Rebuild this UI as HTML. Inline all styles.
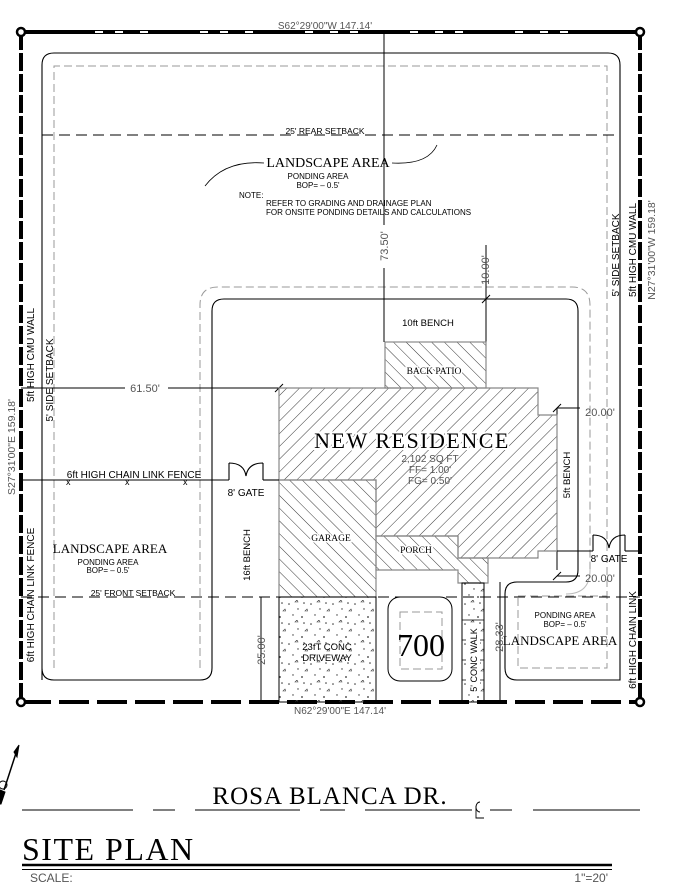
<!DOCTYPE html>
<html><head><meta charset="utf-8"><style>
html,body{margin:0;padding:0;background:#fff;}
svg{display:block;}
.s{font-family:"Liberation Sans",sans-serif;fill:#000;}
.g{font-family:"Liberation Sans",sans-serif;fill:#555;}
.r{font-family:"Liberation Serif",serif;fill:#000;}
</style></head><body>
<svg width="673" height="896" viewBox="0 0 673 896" xmlns="http://www.w3.org/2000/svg">
<defs>
<pattern id="h1" patternUnits="userSpaceOnUse" width="9" height="9" patternTransform="rotate(45)">
<line x1="0" y1="0" x2="0" y2="9" stroke="#222" stroke-width="0.9"/></pattern>
<pattern id="h2" patternUnits="userSpaceOnUse" width="9" height="9" patternTransform="rotate(-45)">
<line x1="0" y1="0" x2="0" y2="9" stroke="#222" stroke-width="0.9"/></pattern>
<pattern id="dots" patternUnits="userSpaceOnUse" width="22" height="20">
<circle cx="3" cy="4" r="0.8" fill="#333"/><circle cx="12" cy="9" r="0.7" fill="#333"/><circle cx="18" cy="3" r="0.8" fill="#333"/><circle cx="7" cy="15" r="0.7" fill="#333"/><circle cx="16" cy="17" r="0.9" fill="#333"/><path d="M9 2 l2 -2 l1 2z" fill="none" stroke="#444" stroke-width="0.6"/><path d="M19 11 l2 -2 l1 2z" fill="none" stroke="#444" stroke-width="0.6"/>
</pattern>
</defs>

<!-- property boundary -->
<g stroke="#000" stroke-width="4" fill="none">
<line x1="21" y1="32" x2="640" y2="32"/>
<line x1="21" y1="32" x2="21" y2="702" stroke-dasharray="18 3"/>
<line x1="640" y1="32" x2="640" y2="702" stroke-dasharray="18 3"/>
<line x1="21" y1="702" x2="640" y2="702" stroke-dasharray="30 8"/>
</g>
<g fill="#fff" stroke="#000" stroke-width="2.5">
<circle cx="21" cy="32" r="4"/><circle cx="640" cy="32" r="4"/><circle cx="21" cy="702" r="4"/><circle cx="640" cy="702" r="4"/>
</g>
<g fill="#fff"><rect x="95" y="31" width="8" height="2"/><rect x="115" y="31" width="8" height="2"/><rect x="140" y="31" width="8" height="2"/><rect x="200" y="31" width="8" height="2"/><rect x="220" y="31" width="8" height="2"/><rect x="245" y="31" width="8" height="2"/><rect x="305" y="31" width="8" height="2"/><rect x="330" y="31" width="8" height="2"/><rect x="350" y="31" width="8" height="2"/><rect x="410" y="31" width="8" height="2"/><rect x="435" y="31" width="8" height="2"/><rect x="455" y="31" width="8" height="2"/><rect x="515" y="31" width="8" height="2"/><rect x="540" y="31" width="8" height="2"/><rect x="560" y="31" width="8" height="2"/></g>
<text x="325" y="29" class="g" font-size="10" text-anchor="middle">S62°29'00"W 147.14'</text>
<text x="340" y="714" class="g" font-size="10" text-anchor="middle">N62°29'00"E 147.14'</text>

<!-- landscape solid outline -->
<path d="M42 680 V65 Q42 53 54 53 H608 Q620 53 620 65 V680 Q620 680 610 680 H517 Q505 680 505 668 V594 Q505 582 517 582 H566 Q578 582 578 570 V311 Q578 299 566 299 H224 Q212 299 212 311 V668 Q212 680 200 680 H54 Q42 680 42 668" fill="none" stroke="#000" stroke-width="1.1"/>
<g fill="none" stroke="#999" stroke-width="1" stroke-dasharray="8 4">
<path d="M54 668 V66 H607 V668"/>
<path d="M200 668 V305 Q200 287 218 287 H572 Q590 287 590 305 V570"/>
<rect x="518" y="596" width="89" height="72"/>
<rect x="400" y="612" width="42" height="57"/>
</g>
<path d="M590 570 Q590 594 566 594" fill="none" stroke="#bbb" stroke-width="1"/>

<!-- setbacks -->
<g stroke="#000" stroke-width="1.1" stroke-dasharray="11 6">
<line x1="42" y1="135" x2="620" y2="135"/>
<line x1="21" y1="597" x2="640" y2="597"/>
</g>
<text x="325" y="134" class="s" font-size="8.5" text-anchor="middle">25' REAR SETBACK</text>
<text x="133" y="596" class="s" font-size="8.5" text-anchor="middle">25' FRONT SETBACK</text>

<text x="328" y="167" class="r" font-size="14" text-anchor="middle">LANDSCAPE AREA</text>
<path d="M205 186 Q225 160 264 163" fill="none" stroke="#000" stroke-width="0.8"/>
<path d="M392 163 Q428 165 437 145" fill="none" stroke="#000" stroke-width="0.8"/>
<text x="318" y="179" class="s" font-size="8" text-anchor="middle">PONDING   AREA</text>
<text x="318" y="188" class="s" font-size="8" text-anchor="middle">BOP=  –  0.5'</text>
<text x="239" y="198" class="s" font-size="8">NOTE:</text>
<text x="266" y="206" class="s" font-size="8">REFER TO GRADING AND DRAINAGE PLAN</text>
<text x="266" y="215" class="s" font-size="8">FOR ONSITE PONDING DETAILS AND CALCULATIONS</text>

<!-- dimension lines -->
<g stroke="#000" stroke-width="1" fill="none">
<line x1="384" y1="32" x2="384" y2="225"/><line x1="384" y1="268" x2="384" y2="342"/>
<line x1="486" y1="245" x2="486" y2="342"/>
<line x1="482" y1="303" x2="490" y2="295"/>
<line x1="21" y1="388" x2="125" y2="388"/><line x1="168" y1="388" x2="279" y2="388"/>
<line x1="275" y1="392" x2="283" y2="384"/>
<line x1="557" y1="408" x2="580" y2="408"/>
<line x1="557" y1="408" x2="557" y2="570"/>
<line x1="553" y1="412" x2="561" y2="404"/>
<line x1="557" y1="576" x2="580" y2="576"/>
<line x1="553" y1="580" x2="561" y2="572"/>
<line x1="261" y1="597" x2="261" y2="702"/>
<line x1="500" y1="582" x2="500" y2="702"/>
</g>
<text x="145" y="392" class="g" font-size="11" text-anchor="middle">61.50'</text>
<text x="600" y="416" class="g" font-size="11" text-anchor="middle">20.00'</text>
<text x="600" y="582" class="g" font-size="11" text-anchor="middle">20.00'</text>
<text transform="translate(388,246) rotate(-90)" class="g" font-size="11" text-anchor="middle">73.50'</text>
<text transform="translate(489,270) rotate(-90)" class="g" font-size="11" text-anchor="middle">10.00'</text>
<text transform="translate(265,650) rotate(-90)" class="g" font-size="11" text-anchor="middle">25.00'</text>
<text transform="translate(503,637) rotate(-90)" class="g" font-size="11" text-anchor="middle">28.33'</text>
<text x="428" y="326" class="s" font-size="9.5" text-anchor="middle">10ft BENCH</text>
<text transform="translate(570,475) rotate(-90)" class="s" font-size="9.5" text-anchor="middle">5ft BENCH</text>
<text transform="translate(250,555) rotate(-90)" class="s" font-size="9.5" text-anchor="middle">16ft BENCH</text>

<!-- house -->
<g stroke="#888" stroke-width="1.2">
<rect x="385" y="342" width="101" height="46" fill="url(#h2)"/>
<path d="M279 388 H538 V415 H557 V551 H538 V558 H458 V536 H376 V480 H279Z" fill="url(#h1)"/>
<path d="M376 536 H458 V558 H488 V583 H458 V570 H376Z" fill="url(#h2)"/>
<rect x="279" y="480" width="97" height="117" fill="url(#h2)"/>
</g>
<text x="434" y="374" class="r" font-size="9.5" text-anchor="middle" stroke="#fff" stroke-width="3">BACK PATIO</text>
<text x="434" y="374" class="r" font-size="9.5" text-anchor="middle">BACK PATIO</text>
<g font-size="9.5" text-anchor="middle" class="r">
<text x="331" y="541" stroke="#fff" stroke-width="3">GARAGE</text><text x="331" y="541">GARAGE</text>
<text x="416" y="553" stroke="#fff" stroke-width="3">PORCH</text><text x="416" y="553">PORCH</text>
</g>
<text x="412" y="448" class="r" font-size="22" letter-spacing="1.5" text-anchor="middle" stroke="#fff" stroke-width="4">NEW  RESIDENCE</text>
<text x="412" y="448" class="r" font-size="22" letter-spacing="1.5" text-anchor="middle">NEW  RESIDENCE</text>
<g class="g" font-size="10" text-anchor="middle">
<text x="430" y="462">2,102 SQ FT</text><text x="430" y="473">FF= 1.00'</text><text x="430" y="484">FG= 0.50'</text>
</g>

<!-- driveway -->
<rect x="279" y="597" width="97" height="105" fill="url(#dots)" stroke="#000" stroke-width="1"/>
<text x="327" y="650" class="s" font-size="9.5" text-anchor="middle" fill="#333">23fT CONC</text>
<text x="327" y="661" class="s" font-size="9.5" text-anchor="middle" fill="#333">DRIVEWAY</text>
<rect x="388" y="597" width="64" height="84" rx="12" fill="none" stroke="#000" stroke-width="1"/>
<text x="421" y="656" class="r" font-size="32" text-anchor="middle">700</text>
<rect x="462" y="583" width="22" height="119" fill="url(#dots)" stroke="#000" stroke-width="1"/>
<g stroke="#000" stroke-width="0.8"><line x1="462" y1="620" x2="484" y2="620"/><line x1="462" y1="640" x2="484" y2="640"/><line x1="462" y1="660" x2="484" y2="660"/><line x1="462" y1="680" x2="484" y2="680"/></g>
<rect x="466" y="628" width="14" height="65" fill="#fff"/>
<text transform="translate(477,660) rotate(-90)" class="s" font-size="9" text-anchor="middle">5' CONC WALK</text>

<!-- fences -->
<g stroke="#000" stroke-width="1.1" fill="none">
<line x1="21" y1="480" x2="229" y2="480"/>
<path d="M229 480 V463 M263 480 V463 M229 463 Q244 463 246 476 Q248 463 263 463"/>
<line x1="263" y1="480" x2="279" y2="480"/>
<line x1="557" y1="551" x2="593" y2="551"/>
<path d="M593 551 V535 M625 551 V535 M593 535 Q607 535 609 548 Q611 535 625 535"/>
<line x1="625" y1="551" x2="640" y2="551"/>
</g>
<text x="134" y="478" class="s" font-size="10" text-anchor="middle">6ft HIGH CHAIN LINK FENCE</text>
<text x="66" y="485" class="s" font-size="9">x</text><text x="125" y="485" class="s" font-size="9">x</text><text x="183" y="485" class="s" font-size="9">x</text>
<text x="246" y="496" class="s" font-size="10" text-anchor="middle">8' GATE</text>
<text x="609" y="562" class="s" font-size="10" text-anchor="middle">8' GATE</text>

<text x="110" y="553" class="r" font-size="13" text-anchor="middle">LANDSCAPE AREA</text>
<text x="108" y="565" class="s" font-size="8" text-anchor="middle">PONDING   AREA</text>
<text x="108" y="573" class="s" font-size="8" text-anchor="middle">BOP=  –  0.5'</text>
<text x="560" y="645" class="r" font-size="13" text-anchor="middle">LANDSCAPE AREA</text>
<text x="565" y="618" class="s" font-size="8" text-anchor="middle">PONDING   AREA</text>
<text x="565" y="627" class="s" font-size="8" text-anchor="middle">BOP=  –  0.5'</text>

<text transform="translate(34,355) rotate(-90)" class="s" font-size="10" text-anchor="middle">5ft HIGH CMU WALL</text>
<text transform="translate(53,380) rotate(-90)" class="s" font-size="10" text-anchor="middle">5' SIDE SETBACK</text>
<text transform="translate(15,447) rotate(-90)" class="g" font-size="10.5" text-anchor="middle">S27°31'00"E 159.18'</text>
<text transform="translate(34,595) rotate(-90)" class="s" font-size="10" text-anchor="middle">6ft HIGH CHAIN LINK FENCE</text>
<text transform="translate(619,255) rotate(-90)" class="s" font-size="10" text-anchor="middle">5' SIDE SETBACK</text>
<text transform="translate(636,250) rotate(-90)" class="s" font-size="10" text-anchor="middle">5ft HIGH CMU WALL</text>
<text transform="translate(655,250) rotate(-90)" class="g" font-size="10.5" text-anchor="middle">N27°31'00"W 159.18'</text>
<text transform="translate(636,640) rotate(-90)" class="s" font-size="10" text-anchor="middle">6ft HIGH CHAIN LINK</text>

<g stroke="#000" fill="#000">
<line x1="18" y1="747" x2="4" y2="790" stroke-width="1.5"/>
<path d="M14 752 L19 745 L17 757Z"/>
<circle cx="3" cy="785" r="4" fill="none" stroke-width="1"/>
<path d="M0 790 L5 792 L1 804 L0 804Z"/>
</g>

<text x="330" y="804" class="r" font-size="25" letter-spacing="1" text-anchor="middle">ROSA  BLANCA  DR.</text>
<g stroke="#000" stroke-width="1.1">
<line x1="22" y1="810" x2="133" y2="810"/><line x1="153" y1="810" x2="175" y2="810"/><line x1="195" y1="810" x2="300" y2="810"/><line x1="320" y1="810" x2="345" y2="810"/><line x1="365" y1="810" x2="472" y2="810"/><line x1="490" y1="810" x2="512" y2="810"/><line x1="533" y1="810" x2="640" y2="810"/>
<path d="M480 802 A4 5 0 1 0 480 812" fill="none" stroke-width="0.9"/>
<path d="M476 806 V818 H484" fill="none" stroke-width="0.9"/>
</g>

<text x="22" y="860" class="r" font-size="32" letter-spacing="1.5">SITE  PLAN</text>
<line x1="22" y1="865" x2="612" y2="865" stroke="#000" stroke-width="2.5"/>
<line x1="22" y1="869.5" x2="612" y2="869.5" stroke="#000" stroke-width="1"/>
<text x="30" y="882" class="g" font-size="12">SCALE:</text>
<text x="608" y="882" class="g" font-size="12" text-anchor="end">1"=20'</text>
</svg>
</body></html>
